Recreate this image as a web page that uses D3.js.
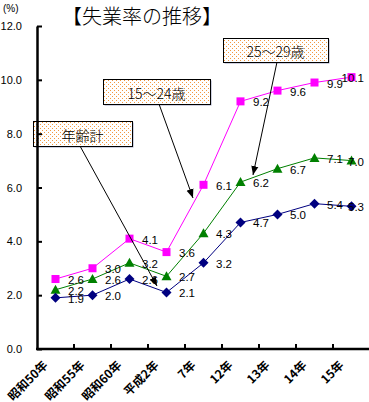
<!DOCTYPE html>
<html><head><meta charset="utf-8">
<script src="https://cdn.jsdelivr.net/npm/d3@7"></script>
<style>html,body{margin:0;padding:0;background:#fff;}svg{display:block;}</style>
</head><body>
<script>
const categories = ["昭和50年","昭和55年","昭和60年","平成2年","7年","12年","13年","14年","15年"];
const total = [1.9, 2.0, 2.6, 2.1, 3.2, 4.7, 5.0, 5.4, 5.3];
const age15to24 = [2.6, 3.0, 4.1, 3.6, 6.1, 9.2, 9.6, 9.9, 10.1];
const age25to29 = [2.2, 2.6, 3.2, 2.7, 4.3, 6.2, 6.7, 7.1, 7.0];
const yTicks = [0, 2, 4, 6, 8, 10, 12];
const title = "【失業率の推移】";
const unit = "(%)";
const calloutNames = ["年齢計", "15～24歳", "25～29歳"];

const W = 369, H = 402;
const svg = d3.select("body").append("svg").attr("width", W).attr("height", H);
const x = d3.scaleBand().domain(categories).range([37, 370]).padding(0);
const y = d3.scaleLinear().domain([0, 12]).range([349, 26]);
const cx = c => x(c) + x.bandwidth() / 2;

const defs = svg.append("defs");
const pat = defs.append("pattern").attr("id", "dots").attr("patternUnits", "userSpaceOnUse")
  .attr("width", 4).attr("height", 4);
pat.append("rect").attr("width", 4).attr("height", 4).attr("fill", "#fff");
pat.append("rect").attr("x", 0).attr("y", 0).attr("width", 1).attr("height", 1).attr("fill", "#f29840");
pat.append("rect").attr("x", 2).attr("y", 2).attr("width", 1).attr("height", 1).attr("fill", "#f29840");
const mk = defs.append("marker").attr("id", "arr").attr("viewBox", "0 0 10 10")
  .attr("refX", 10).attr("refY", 5).attr("markerWidth", 9).attr("markerHeight", 9)
  .attr("markerUnits", "userSpaceOnUse").attr("orient", "auto");
mk.append("path").attr("d", "M0,1 L10,5 L0,9 Z").attr("fill", "#000");

// title & unit
svg.append("text").attr("x", 62).attr("y", 24).attr("font-family", "'Noto Sans CJK JP'")
  .attr("font-size", 20).attr("font-weight", 300).attr("fill", "#000").text(title);
svg.append("text").attr("x", 3).attr("y", 12).attr("font-family", "'Liberation Sans', Arial")
  .attr("font-size", 10).attr("fill", "#000").text(unit);

// callout boxes
const boxes = [
  {name: calloutNames[0], x0: 33, y0: 121, x1: 132, y1: 146},
  {name: calloutNames[1], x0: 103, y0: 79, x1: 210, y1: 104},
  {name: calloutNames[2], x0: 223, y0: 38, x1: 328, y1: 62}
];
boxes.forEach(b => {
  svg.append("rect").attr("x", b.x0 + 1.5).attr("y", b.y0 + 1.5).attr("width", b.x1 - b.x0).attr("height", b.y1 - b.y0)
    .attr("fill", "#a0a4c4");
  svg.append("rect").attr("x", b.x0 + 0.5).attr("y", b.y0 + 0.5).attr("width", b.x1 - b.x0).attr("height", b.y1 - b.y0)
    .attr("fill", "url(#dots)").attr("stroke", "#000").attr("stroke-width", 1);
  svg.append("text").attr("x", (b.x0 + b.x1) / 2).attr("y", (b.y0 + b.y1) / 2 + 1)
    .attr("text-anchor", "middle").attr("dominant-baseline", "central")
    .attr("font-family", "'Noto Sans CJK JP'").attr("font-size", 14).attr("font-weight", 300)
    .attr("fill", "#000").text(b.name);
});

// axes
const yAxis = d3.axisLeft(y).tickValues(yTicks).tickFormat(d3.format(".1f"))
  .tickSizeInner(-5).tickSizeOuter(0).tickPadding(15);
const gy = svg.append("g").attr("transform", "translate(37,0)").call(yAxis);
gy.select(".domain").attr("stroke-width", 2.5);
gy.selectAll(".tick line").attr("stroke-width", 2);
gy.selectAll(".tick text").attr("font-family", "'Liberation Sans', Arial").attr("font-size", 11).attr("fill", "#000");

svg.append("line").attr("x1", 36).attr("x2", 370).attr("y1", y(0)).attr("y2", y(0))
  .attr("stroke", "#000").attr("stroke-width", 2.5);
svg.selectAll(".xtick").data(categories.slice(1)).enter().append("line")
  .attr("x1", d => x(d)).attr("x2", d => x(d)).attr("y1", y(0)).attr("y2", y(0) - 5)
  .attr("stroke", "#000").attr("stroke-width", 2);
svg.selectAll(".xlab").data(categories).enter().append("text")
  .attr("transform", d => `translate(${cx(d) - 7},${y(0) + 17}) rotate(-45)`)
  .attr("text-anchor", "end").attr("font-family", "'Noto Sans CJK JP'").attr("font-size", 12)
  .attr("font-weight", "bold").attr("fill", "#000").text(d => d);

// series
const series = [
  {vals: age15to24, color: "#ff00ff", shape: "square"},
  {vals: age25to29, color: "#008000", shape: "triangle"},
  {vals: total, color: "#000080", shape: "diamond"}
];
const line = d3.line().x((d, i) => cx(categories[i])).y(d => y(d));
series.forEach(s => {
  svg.append("path").attr("d", line(s.vals)).attr("fill", "none").attr("stroke", s.color).attr("stroke-width", 1);
});
series.forEach(s => {
  s.vals.forEach((v, i) => {
    const px = cx(categories[i]), py = y(v);
    if (s.shape === "square") {
      svg.append("rect").attr("x", px - 4).attr("y", py - 4).attr("width", 8).attr("height", 8).attr("fill", s.color);
    } else if (s.shape === "triangle") {
      svg.append("path").attr("d", `M${px},${py - 5} L${px + 5},${py + 4} L${px - 5},${py + 4} Z`).attr("fill", s.color);
    } else {
      svg.append("path").attr("d", `M${px},${py - 5} L${px + 5},${py} L${px},${py + 5} L${px - 5},${py} Z`).attr("fill", s.color);
    }
  });
});
series.forEach(s => {
  s.vals.forEach((v, i) => {
    const px = cx(categories[i]), py = y(v);
    const last = i === categories.length - 1;
    svg.append("text").attr("x", last ? 364 : px + 12.5).attr("y", py + 1)
      .attr("text-anchor", last ? "end" : "start").attr("dominant-baseline", "central")
      .attr("font-family", "'Liberation Sans', Arial").attr("font-size", 11.5).attr("fill", "#000")
      .text(d3.format(".1f")(v));
  });
});

// arrows
const arrows = [
  {x1: 80, y1: 146, x2: 157, y2: 286},
  {x1: 159, y1: 104, x2: 193, y2: 198},
  {x1: 277, y1: 62, x2: 253, y2: 175}
];
arrows.forEach(a => {
  svg.append("line").attr("x1", a.x1).attr("y1", a.y1).attr("x2", a.x2).attr("y2", a.y2)
    .attr("stroke", "#000").attr("stroke-width", 1).attr("marker-end", "url(#arr)");
});
</script>
</body></html>
